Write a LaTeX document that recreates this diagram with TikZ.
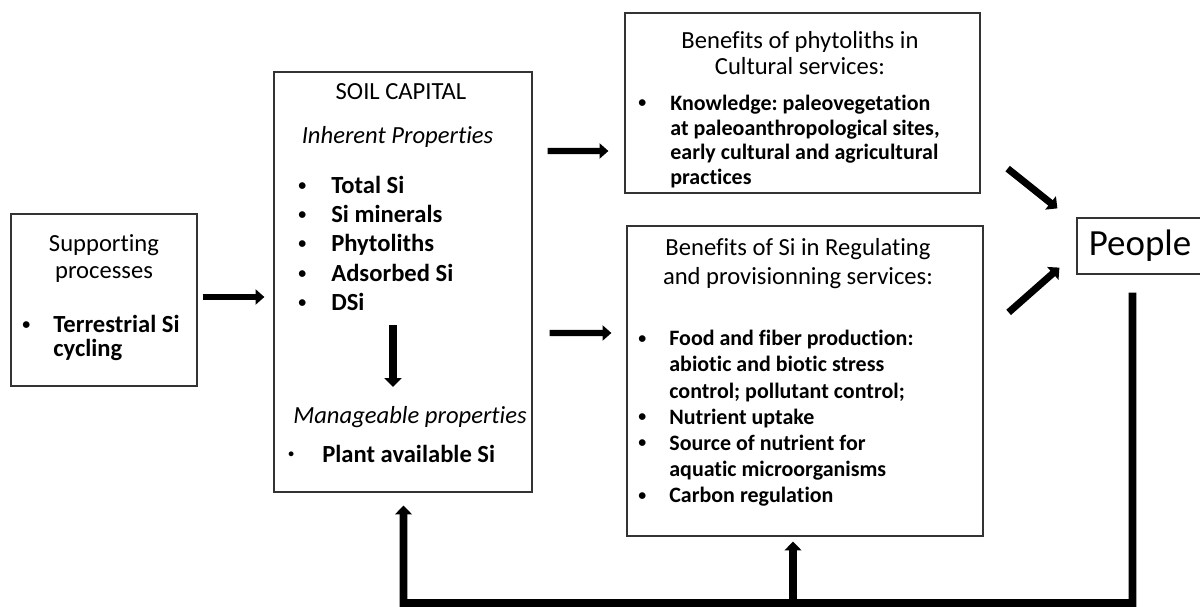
\documentclass[tikz,border=0pt]{standalone}
\usepackage{fontspec}
\setmainfont{Carlito}[Ligatures=NoCommon]
\usetikzlibrary{arrows.meta,calc}
\newcommand{\dotb}{\raisebox{.12em}{\fontsize{9}{10}\selectfont\textbullet}}
\frenchspacing

\begin{document}
\begin{tikzpicture}[
    box/.style={draw=black!80,line width=.7pt,inner sep=0pt},
    fat/.style={line width=4pt,-{Triangle[length=5pt,width=9.5pt]}},
    harrow/.style={line width=3.6pt,-{Triangle[length=5pt,width=8.5pt]}},
    fb/.style={line width=4.4pt,-{Triangle[length=5pt,width=9.5pt]}},
    head/.style={align=center,font=\fontsize{14}{16.4}\selectfont},
    items/.style={anchor=west,inner sep=0pt,font=\bfseries\fontsize{14}{16.7}\selectfont}]
    \useasboundingbox (0,0) rectangle (24,12.12);

    % boxes
    \node[box,minimum width=3.72cm,minimum height=3.44cm] (sup) at (2.08,6.12) {};
    \node[box,minimum width=5.16cm,minimum height=8.40cm] (soil) at (8.06,6.48) {};
    \node[box,minimum width=7.10cm,minimum height=3.60cm] (cult) at (16.05,10.06) {};
    \node[box,minimum width=7.12cm,minimum height=6.20cm] (reg) at (16.10,4.50) {};
    \node[box,minimum width=2.52cm,minimum height=1.12cm,font=\fontsize{21}{24}\selectfont] (people) at (22.80,7.20) {People};

    % supporting processes
    \node[head,font=\fontsize{14}{15.3}\selectfont] (suphead) at (2.08,6.95) {Supporting\\processes};
    \node[items,font=\bfseries\fontsize{14}{14.2}\selectfont] (supitem) at (0.44,5.33)
      {\begin{tabular}{@{}p{.62cm}@{}l@{}}\dotb & Terrestrial Si\\ & cycling\end{tabular}};

    % soil capital
    \node[head] (soiltitle) at (8.02,10.28) {SOIL CAPITAL};
    \node[head,font=\itshape\fontsize{14}{16.4}\selectfont] (inherent) at (7.95,9.38) {Inherent Properties};
    \node[items] (soilitems) at (5.96,7.20)
      {\begin{tabular}{@{}p{.66cm}@{}l@{}}
        \dotb & Total Si\\
        \dotb & Si minerals\\
        \dotb & Phytoliths\\
        \dotb & Adsorbed Si\\
        \dotb & DSi
      \end{tabular}};
    \node[head,font=\itshape\fontsize{14}{16.4}\selectfont] (manage) at (8.20,3.78) {Manageable properties};
    \node[items] (plantitem) at (5.76,2.98)
      {\begin{tabular}{@{}p{.68cm}@{}l@{}}\raisebox{.2em}{\fontsize{6.5}{8}\selectfont\textbullet} & Plant available Si\end{tabular}};

    % cultural services
    \node[head,font=\fontsize{14}{14.8}\selectfont] (culthead) at (16.00,11.06) {Benefits of phytoliths in\\Cultural services:};
    \node[items,font=\bfseries\fontsize{12.5}{14.2}\selectfont] (cultitem) at (12.76,9.27)
      {\begin{tabular}{@{}p{.64cm}@{}l@{}}
        \dotb & Knowledge: paleovegetation\\
        & at paleoanthropological sites,\\
        & early cultural and agricultural\\
        & practices
      \end{tabular}};

    % regulating and provisionning services
    \node[head] (reghead) at (15.96,6.85) {Benefits of Si in Regulating\\and provisionning services:};
    \node[items,font=\bfseries\fontsize{12.5}{14.9}\selectfont] (regitem) at (12.76,3.74)
      {\begin{tabular}{@{}p{.62cm}@{}l@{}}
        \dotb & Food and fiber production:\\
        & abiotic and biotic stress\\
        & control; pollutant control;\\
        \dotb & Nutrient uptake\\
        \dotb & Source of nutrient for\\
        & aquatic microorganisms\\
        \dotb & Carbon regulation
      \end{tabular}};

    % arrows
    \draw[harrow] ($(sup.east)+(0.10,0.06)$) -- ($(soil.west |- sup.east)+(-0.18,0.06)$);
    \draw[harrow] ($(soil.east)+(0.30,2.62)$) -- ($(cult.west)+(-0.32,-0.96)$);
    \draw[harrow] ($(soil.east)+(0.34,-1.02)$) -- ($(reg.west)+(-0.30,0.96)$);
    \draw[fb] ($(soil.center)+(-0.20,-0.86)$) -- ($(soil.center)+(-0.20,-2.10)$);
    \draw[fat] ($(cult.south east)+(0.54,0.50)$) -- ($(people.north west)+(-0.38,0.18)$);
    \draw[fat] ($(reg.north east)+(0.50,-1.74)$) -- ($(people.south west)+(-0.34,0.14)$);

    % feedback from people
    \coordinate (fbcorner) at (8.07,0.06);
    \draw[fb] ($(people.south)+(-0.15,-0.36)$) |- (fbcorner) -- ($(soil.south)+(0.01,-0.26)$);
    \draw[fb] ($(reg.south)+(-0.24,-1.34)$) -- ($(reg.south)+(-0.24,-0.10)$);
  \end{tikzpicture}
\end{document}
